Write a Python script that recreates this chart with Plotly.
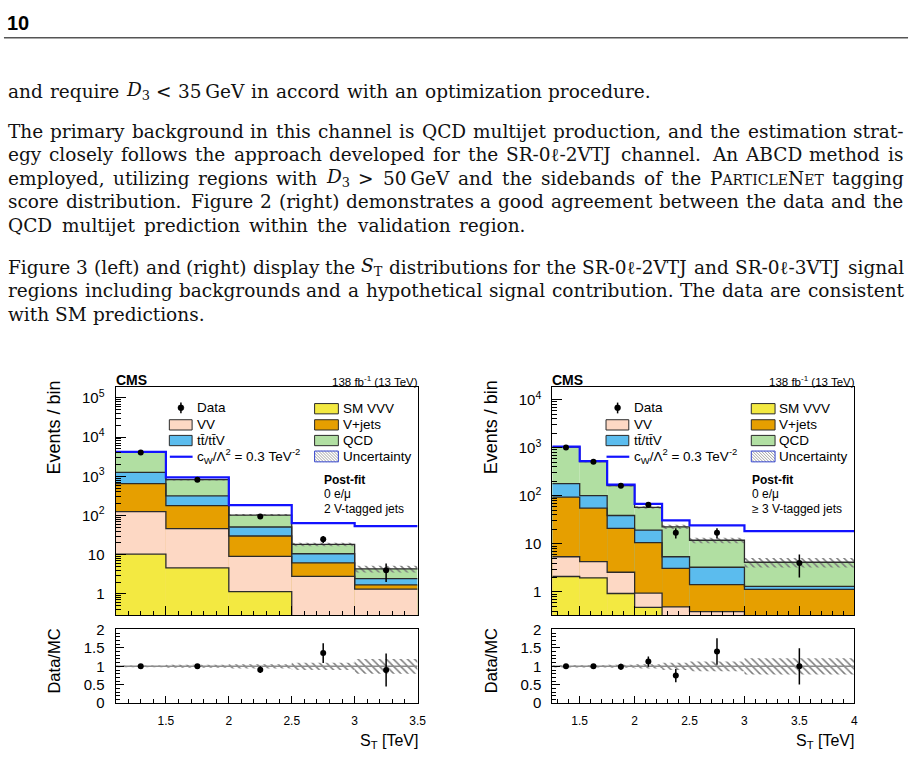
import os
import re
import struct
import numpy as np
import plotly.graph_objects as go

# ---------------- data ----------------
# Left: SR-0l-2VTJ, bins in S_T [TeV]
edges_L = [1.1, 1.5, 2.0, 2.5, 3.0, 3.5]
vvv_L = [10.3, 4.6, 1.15, 0.0, 0.0]
vv_L = [116, 41.5, 7.9, 2.8, 1.33]
vjets_L = [527, 132, 21, 3.4, 0.37]
ttv_L = [607, 138, 21, 4.4, 0.75]
qcd_L = [2810, 506, 52, 7.8, 1.92]
signal_L = [4200, 944, 184, 64, 54]
data_L = [4050, 820, 94, 25, 4]
data_err_L = [64, 29, 9.7, 5, 2]
unc_L = [0.025, 0.04, 0.06, 0.1, 0.2]
ratio_L = [1.0, 1.0, 0.91, 1.36, 0.9]
ratio_err_L = [0.02, 0.035, 0.09, 0.27, 0.45]

# Right: SR-0l-3VTJ
edges_R = [1.25, 1.5, 1.75, 2.0, 2.25, 2.5, 3.0, 4.0]
vvv_R = [2.1, 1.97, 0.93, 0.48, 0.25, 0.0, 0.0]
vv_R = [3.3, 2.3, 1.64, 0.47, 0.24, 0.39, 0.2]
vjets_R = [88.6, 51.3, 18.4, 9.65, 2.61, 1.03, 0.93]
ttv_R = [85, 45.4, 18, 8.8, 2.3, 1.85, 0.18]
qcd_R = [846, 412, 124, 38.1, 17.2, 8.63, 2.84]
signal_R = [1050, 525, 170, 68, 30.9, 24.3, 18.5]
data_R = [1010, 510, 162, 65, 17, 17, 4]
data_err_R = [32, 22.6, 12.7, 8.1, 4.1, 4.1, 2.0]
unc_R = [0.03, 0.03, 0.04, 0.06, 0.1, 0.13, 0.22]
ratio_R = [1.0, 1.0, 0.99, 1.13, 0.75, 1.40, 1.0]
ratio_err_R = [0.03, 0.045, 0.08, 0.14, 0.18, 0.36, 0.49]

xticks_L = [1.5, 2, 2.5, 3, 3.5]
xlabels_L = ["1.5", "2", "2.5", "3", "3.5"]
xticks_R = [1.5, 2, 2.5, 3, 3.5, 4]
xlabels_R = ["1.5", "2", "2.5", "3", "3.5", "4"]
yticks_L = [1, 10, 100, 1e3, 1e4, 1e5]
ylabels_L = ["1", "10", "10<sup>2</sup>", "10<sup>3</sup>", "10<sup>4</sup>", "10<sup>5</sup>"]
yticks_R = [1, 10, 100, 1e3, 1e4]
ylabels_R = ["1", "10", "10<sup>2</sup>", "10<sup>3</sup>", "10<sup>4</sup>"]
rticks = [0, 0.5, 1, 1.5, 2]
rlabels = ["0", "0.5", "1", "1.5", "2"]

legend_left = ["Data", "VV", "tt\u0304/tt\u0304V",
               "c<sub>W</sub>/\u039b<sup>2</sup> = 0.3 TeV<sup>-2</sup>"]
legend_right = ["SM VVV", "V+jets", "QCD", "Uncertainty"]

SC = '<span style="font-size:14px">'
page_p1 = ["and require <i>D</i><sub>3</sub> &lt; 35\u2009GeV in accord with an optimization procedure."]
page_p2 = [
    "The primary background in this channel is QCD multijet production, and the estimation strat-",
    "egy closely follows the approach developed for the SR-0\u2113-2VTJ channel.  An ABCD method is",
    "employed, utilizing regions with <i>D</i><sub>3</sub> &gt; 50\u2009GeV and the sidebands of the P" + SC
    + "ARTICLE</span>N" + SC + "ET</span> tagging",
    "score distribution.  Figure 2 (right) demonstrates a good agreement between the data and the",
    "QCD multijet prediction within the validation region.",
]
page_p3 = [
    "Figure 3 (left) and (right) display the <i>S</i><sub>T</sub> distributions for the SR-0\u2113-2VTJ and SR-0\u2113-3VTJ signal",
    "regions including backgrounds and a hypothetical signal contribution. The data are consistent",
    "with SM predictions.",
]

# ---------------- geometry ----------------
W, H = 921, 767


def X(p):
    return p / W


def Y(p):
    return 1 - p / H


COL = ['#f3e941', '#fdd8c4', '#e69f00', '#5bbcee', '#b1dfa2']  # VVV, VV, V+jets, tt, QCD
HATCH = '#7d7d7d'
EDGE = '#2b2b2b'
SIG = '#1212ff'
SANS = 'Arial, Liberation Sans, sans-serif'

fig = go.Figure()
shapes = []
annots = []


def ann(x, y, text, size, xanchor='left', family=SANS, angle=0, color='black', yanchor='middle'):
    annots.append(dict(x=X(x), y=Y(y), xref='paper', yref='paper', text=text, showarrow=False,
                       xanchor=xanchor, yanchor=yanchor, textangle=angle, borderpad=0, borderwidth=0,
                       font=dict(size=size, family=family, color=color)))


def panel(k, edges, comps, signal, data, derr, unc, ratio, rerr, dx, yrange,
          xt, xtl, yt, ytl):
    xm, ym = ('x', 'y') if k == 0 else ('x3', 'y3')
    xr, yr = ('x2', 'y2') if k == 0 else ('x4', 'y4')
    e = np.array(edges, float)
    c = (e[:-1] + e[1:]) / 2
    w = np.diff(e)
    cum = np.cumsum(np.array(comps, float), axis=0)
    total = cum[-1]
    u = np.array(unc)
    for j in range(len(comps) - 1, -1, -1):
        yv = np.where(cum[j] > 0, cum[j], np.nan)
        fig.add_trace(go.Bar(x=c, y=yv, width=w, xaxis=xm, yaxis=ym,
                             marker=dict(color=COL[j], line=dict(width=0))))
    for j in range(len(comps)):
        yv = np.where(cum[j] > 0, cum[j], 1e-4)
        fig.add_trace(go.Scatter(x=e, y=np.append(yv, yv[-1]), mode='lines', xaxis=xm, yaxis=ym,
                                 line=dict(shape='hv', color=EDGE, width=1.3)))
    fig.add_trace(go.Bar(x=c, base=total * (1 - u), y=total * 2 * u, width=w, xaxis=xm, yaxis=ym,
                         marker=dict(color='rgba(0,0,0,0)', line=dict(width=0),
                                     pattern=dict(shape='\\', fgcolor=HATCH, bgcolor='rgba(0,0,0,0)',
                                                  size=5, solidity=0.3, fillmode='replace'))))
    sg = np.array(signal, float)
    fig.add_trace(go.Scatter(x=e, y=np.append(sg, sg[-1]), mode='lines', xaxis=xm, yaxis=ym,
                             line=dict(shape='hv', color=SIG, width=2.2)))
    fig.add_trace(go.Scatter(x=c, y=data, mode='markers', xaxis=xm, yaxis=ym,
                             marker=dict(color='black', size=6),
                             error_y=dict(type='data', array=derr, color='black', thickness=1.5, width=0)))
    # ratio panel
    fig.add_trace(go.Scatter(x=[e[0], e[-1]], y=[1, 1], mode='lines', xaxis=xr, yaxis=yr,
                             line=dict(color='#8c8c8c', width=1.5)))
    fig.add_trace(go.Bar(x=c, base=1 - u, y=2 * u, width=w, xaxis=xr, yaxis=yr,
                         marker=dict(color='rgba(0,0,0,0)', line=dict(width=0),
                                     pattern=dict(shape='\\', fgcolor=HATCH, bgcolor='rgba(0,0,0,0)',
                                                  size=5, solidity=0.3, fillmode='replace'))))
    fig.add_trace(go.Scatter(x=c, y=ratio, mode='markers', xaxis=xr, yaxis=yr,
                             marker=dict(color='black', size=6),
                             error_y=dict(type='data', array=rerr, color='black', thickness=1.5, width=0)))

    left, right = 116.7 + dx, 421.7 + dx
    common = dict(showline=True, mirror=True, linecolor='black', linewidth=1, showgrid=False,
                  zeroline=False, ticks='inside', tickcolor='black', tickwidth=1)
    xminor = dict(tickmode='array', tickvals=list(np.round(np.arange(1.0, 4.05, 0.1), 2)),
                  ticks='inside', ticklen=4, tickcolor='black', tickwidth=1)
    logminor = dict(tickmode='array',
                    tickvals=[m * 10.0 ** d for d in range(-1, 6) for m in range(2, 10)],
                    ticks='inside', ticklen=5, tickcolor='black', tickwidth=1)
    rminor = dict(tickmode='array', tickvals=list(np.round(np.arange(0, 2.05, 0.1), 2)),
                  ticks='inside', ticklen=4, tickcolor='black', tickwidth=1)
    ax = lambda n: ('xaxis' if n[0] == 'x' else 'yaxis') + (n[1:] if len(n) > 1 else '')
    fig.update_layout(**{
        ax(xm): dict(common, domain=[X(left), X(right)], range=[e[0], e[-1]], anchor=ym,
                     tickmode='array', tickvals=xt, showticklabels=False, ticklen=9, minor=xminor),
        ax(ym): dict(common, domain=[Y(620), Y(386.7)], type='log', range=yrange, anchor=xm,
                     tickmode='array', tickvals=yt, ticktext=ytl, ticklen=10, minor=logminor,
                     tickfont=dict(size=15, family=SANS, color='black'), ticklabelstandoff=7),
        ax(xr): dict(common, domain=[X(left), X(right)], range=[e[0], e[-1]], anchor=yr,
                     tickmode='array', tickvals=xt, ticktext=xtl, ticklen=7, minor=xminor,
                     tickfont=dict(size=12, family=SANS, color='black'), ticklabelstandoff=6),
        ax(yr): dict(common, domain=[Y(710), Y(634)], range=[0, 2.02], anchor=xr,
                     tickmode='array', tickvals=rticks, ticktext=rlabels, ticklen=8, minor=rminor,
                     tickfont=dict(size=15, family=SANS, color='black'), ticklabelstandoff=7),
    })

    ann(left, 380, '<b>CMS</b>', 14)
    ann(right + 0.5, 380.5, '138 fb<sup>-1</sup> (13 TeV)', 11.5, xanchor='right')
    ann(55 + dx, 428, 'Events / bin', 18, xanchor='center', angle=-90)
    ann(55 + dx, 667, 'Data/MC', 16.5, xanchor='center', angle=-90)
    ann(right, 749, 'S<sub>T</sub> [TeV]', 16, xanchor='right')


panel(0, edges_L, [vvv_L, vv_L, vjets_L, ttv_L, qcd_L], signal_L, data_L, data_err_L, unc_L,
      ratio_L, ratio_err_L, 0, [-0.54, 5.29], xticks_L, xlabels_L, yticks_L, ylabels_L)
panel(1, edges_R, [vvv_R, vv_R, vjets_R, ttv_R, qcd_R], signal_R, data_R, data_err_R, unc_R,
      ratio_R, ratio_err_R, 441, [-0.48, 4.27], xticks_R, xlabels_R, yticks_R, ylabels_R)


# ---------------- legends (drawn in pixel space) ----------------
def rect(x0, y0, x1, y1, fill, line=EDGE, lw=1):
    shapes.append(dict(type='rect', xref='paper', yref='paper', x0=X(x0), x1=X(x1), y0=Y(y1), y1=Y(y0),
                       fillcolor=fill, line=dict(color=line, width=lw)))


def seg(x0, y0, x1, y1, color, lw):
    shapes.append(dict(type='line', xref='paper', yref='paper', x0=X(x0), x1=X(x1), y0=Y(y0), y1=Y(y1),
                       line=dict(color=color, width=lw)))


def hatch_box(x0, y0, x1, y1, step=3.0):
    w, h = x1 - x0, y1 - y0
    t = -h
    while t < w:
        xs, ys, xe, ye = x0 + t, y0, x0 + t + h, y1
        if xs < x0:
            ys += x0 - xs
            xs = x0
        if xe > x1:
            ye -= xe - x1
            xe = x1
        if xe > xs:
            seg(xs, ys, xe, ye, '#8a8a8a', 0.8)
        t += step
    rect(x0, y0, x1, y1, 'rgba(0,0,0,0)', line='#3344cc', lw=1)


for dx, post in [(0, '2 V-tagged jets'), (441, '\u2265 3 V-tagged jets')]:
    shapes.append(dict(type='circle', xref='paper', yref='paper', x0=X(179.7 + dx), x1=X(185.7 + dx),
                       y0=Y(411.3), y1=Y(405.3), fillcolor='black', line=dict(color='black', width=0.5)))
    seg(182.7 + dx, 403, 182.7 + dx, 414, 'black', 1.5)
    ann(199 + dx, 408.5, legend_left[0], 13.5)
    rect(171 + dx, 420.5, 194 + dx, 431, COL[1])
    ann(199 + dx, 425.8, legend_left[1], 13.5)
    rect(171 + dx, 436.5, 194 + dx, 447, COL[3])
    ann(199 + dx, 441.8, legend_left[2], 13.5)
    seg(171.5 + dx, 458.3, 194.5 + dx, 458.3, SIG, 2.2)
    ann(199 + dx, 457.5, legend_left[3], 13.5)
    rect(317.7 + dx, 404, 341.7 + dx, 414.5, COL[0])
    ann(346 + dx, 409.2, legend_right[0], 13.5)
    rect(317.7 + dx, 420.5, 341.7 + dx, 431, COL[2])
    ann(346 + dx, 425.8, legend_right[1], 13.5)
    rect(317.7 + dx, 436.5, 341.7 + dx, 447, COL[4])
    ann(346 + dx, 441.8, legend_right[2], 13.5)
    hatch_box(317.7 + dx, 452.5, 341.7 + dx, 463.5)
    ann(346 + dx, 458, legend_right[3], 13.5)
    px0 = 327 if dx == 0 else 759
    ann(px0, 482, '<b>Post-fit</b>', 12)
    ann(px0, 496.5, '0 e/\u03bc', 12)
    ann(px0, 511.5, post, 12)


# ---------------- page text (justified using the font's own advance widths) ----------------
def load_widths(fname):
    path = None
    for root in ['/usr/share/fonts', '/usr/local/share/fonts', os.path.expanduser('~/.fonts')]:
        for dp, dn, fn in os.walk(root):
            if fname in fn:
                path = os.path.join(dp, fname)
                break
        if path:
            break
    if not path:
        return None
    try:
        d = open(path, 'rb').read()
        nt = struct.unpack('>H', d[4:6])[0]
        tab = {}
        for i in range(nt):
            tag, cs, off, ln = struct.unpack('>4sIII', d[12 + 16 * i:28 + 16 * i])
            tab[tag.decode('latin1')] = off
        upem = struct.unpack('>H', d[tab['head'] + 18:tab['head'] + 20])[0]
        nh = struct.unpack('>H', d[tab['hhea'] + 34:tab['hhea'] + 36])[0]
        adv = [struct.unpack('>H', d[tab['hmtx'] + 4 * i:tab['hmtx'] + 4 * i + 2])[0] for i in range(nh)]
        co = tab['cmap']
        ns = struct.unpack('>H', d[co + 2:co + 4])[0]
        sub = None
        for i in range(ns):
            pid, eid, off = struct.unpack('>HHI', d[co + 4 + 8 * i:co + 12 + 8 * i])
            if pid == 3 and eid == 1 and struct.unpack('>H', d[co + off:co + off + 2])[0] == 4:
                sub = co + off
        if sub is None:
            return None
        s2 = struct.unpack('>H', d[sub + 6:sub + 8])[0]
        n = s2 // 2
        ends = struct.unpack('>%dH' % n, d[sub + 14:sub + 14 + s2])
        starts = struct.unpack('>%dH' % n, d[sub + 16 + s2:sub + 16 + 2 * s2])
        deltas = struct.unpack('>%dh' % n, d[sub + 16 + 2 * s2:sub + 16 + 3 * s2])
        rpos = sub + 16 + 3 * s2
        roffs = struct.unpack('>%dH' % n, d[rpos:rpos + s2])

        def gid(ch):
            cp = ord(ch)
            for i in range(n):
                if starts[i] <= cp <= ends[i]:
                    if roffs[i] == 0:
                        return (cp + deltas[i]) & 0xFFFF
                    a = rpos + 2 * i + roffs[i] + 2 * (cp - starts[i])
                    g = struct.unpack('>H', d[a:a + 2])[0]
                    return (g + deltas[i]) & 0xFFFF if g else 0
            return 0

        def width(s, size):
            return sum(adv[min(gid(ch), nh - 1)] for ch in s) / upem * size
        return width
    except Exception:
        return None


SERIF = 'DejaVu Serif, serif'
TS = 18.5
wfun = load_widths('DejaVuSerif.ttf')


def markup_width(s, base):
    total, stack = 0.0, [base]
    for tok in re.split(r'(<[^>]+>)', s):
        if not tok:
            continue
        if tok.startswith('<'):
            t = tok.lower()
            if t.startswith('</sub') or t.startswith('</sup') or t.startswith('</span'):
                if len(stack) > 1:
                    stack.pop()
            elif t.startswith('<sub') or t.startswith('<sup'):
                stack.append(stack[-1] * 0.7)
            elif t.startswith('<span'):
                m = re.search(r'font-size:\s*([\d.]+)px', t)
                stack.append(float(m.group(1)) if m else stack[-1])
            continue
        tok = tok.replace('&lt;', '<').replace('&gt;', '>').replace('&amp;', '&')
        total += wfun(tok, stack[-1])
    return total


def split_words(line):
    words, weights, cur, intag, spaces = [], [], '', False, 0
    for ch in line:
        if ch == '<':
            intag = True
        elif ch == '>':
            intag = False
        if ch == ' ' and not intag:
            spaces += 1
            continue
        if spaces and cur:
            words.append(cur)
            weights.append(1.0 if spaces == 1 else 1.45)
            cur = ''
        spaces = 0
        cur += ch
    if cur:
        words.append(cur)
    return words, weights


def text_line(line, y, x0, x1):
    if wfun is None:
        ann(x0, y, line, TS, family=SERIF, color='#111111')
        return
    words, weights = split_words(line)
    widths = [markup_width(wd, TS) for wd in words]
    unit = ((x1 - x0) - sum(widths)) / max(sum(weights), 1e-9)
    x = x0
    for i, wd in enumerate(words):
        ann(x, y, wd, TS, family=SERIF, color='#111111')
        if i < len(weights):
            x += widths[i] + unit * weights[i]


ann(7, 15.5, '<b>10</b>', 20, family='Liberation Sans Narrow, Arial Narrow, Liberation Sans, sans-serif')
seg(4, 30.5, 917, 30.5, '#555555', 1.5)
LEFT, RIGHT = 8, 912
paragraphs = [(page_p1, 85, 656), (page_p2, 126, 530), (page_p3, 265, 205)]
for lines, y0, last_end in paragraphs:
    for i, line in enumerate(lines):
        x1 = RIGHT if i < len(lines) - 1 else last_end
        text_line(line, y0 + 24 * i, LEFT, x1)

fig.update_layout(width=W, height=H, margin=dict(l=0, r=0, t=0, b=0), paper_bgcolor='white',
                  plot_bgcolor='white', barmode='overlay', showlegend=False, hovermode=False,
                  shapes=shapes, annotations=annots)
fig.write_html('out.html')
